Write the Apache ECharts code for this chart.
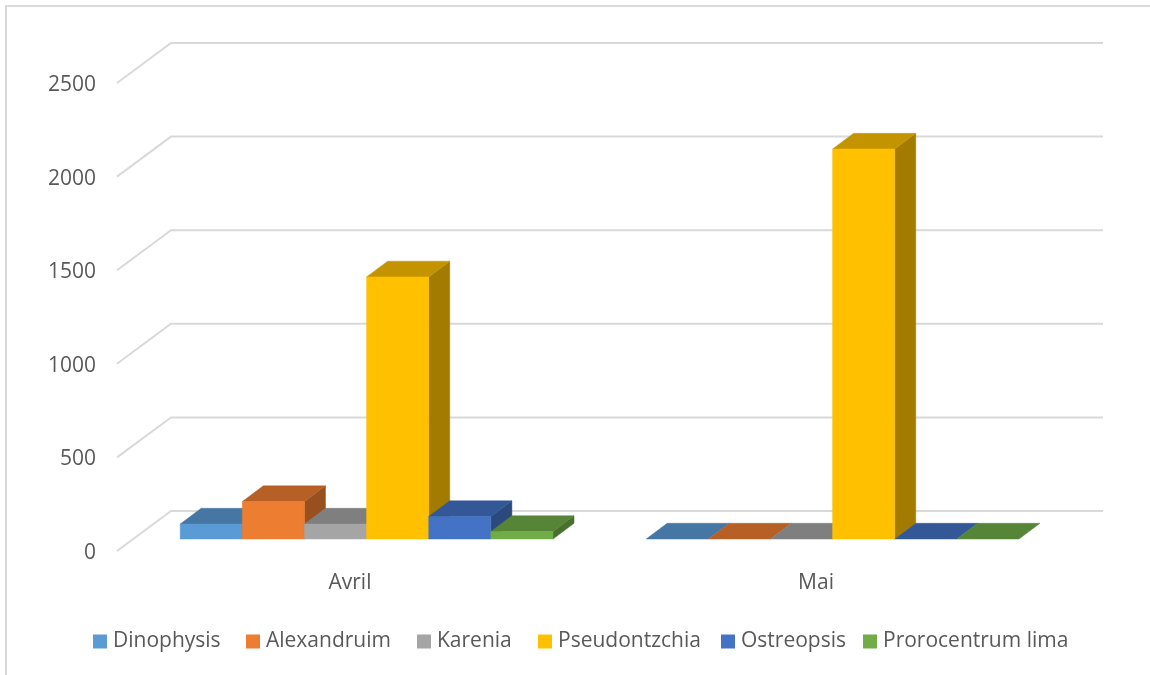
<!DOCTYPE html>
<html>
<head>
<meta charset="utf-8">
<title>Avril / Mai</title>
<script src="https://cdn.jsdelivr.net/npm/echarts@6/dist/echarts.min.js"></script>
<style>
  html, body { margin: 0; padding: 0; background: #fff; }
  #frame { position: absolute; left: 5px; top: 5px; width: 1145px; height: 670px; border-top: 2px solid #d9d9d9; border-left: 2px solid #d9d9d9; }
  #main { position: absolute; left: 0; top: 0; width: 1150px; height: 675px; }
</style>
</head>
<body>
<div id="frame"></div>
<div id="main"></div>
<script>
var categories = ['Avril', 'Mai'];
var yTicks = [0, 500, 1000, 1500, 2000, 2500];

var dinophysis = [80, 0];
var alexandruim = [200, 0];
var karenia = [80, 0];
var pseudontzchia = [1400, 2083];
var ostreopsis = [120, 0];
var prorocentrum = [40, 0];

var seriesNames = ['Dinophysis', 'Alexandruim', 'Karenia', 'Pseudontzchia', 'Ostreopsis', 'Prorocentrum lima'];
var seriesValues = [dinophysis, alexandruim, karenia, pseudontzchia, ostreopsis, prorocentrum];
var colors = ['#5b9bd5', '#ed7d31', '#a5a5a5', '#ffc000', '#4472c4', '#70ad47'];

// fausse 3D : decalage de profondeur du plancher
var wallDx = 54, wallDy = -40;
var barOffsetX = 16.6, barOffsetY = -12;
var depthX = 21, depthY = -15.7;

// une legende par serie, calee sur le carre de la reference
var legendLefts = [93, 246, 417, 538, 721, 863];

function shade(hex, k) {
  var n = parseInt(hex.slice(1), 16);
  var r = Math.round((n >> 16 & 255) * k);
  var g = Math.round((n >> 8 & 255) * k);
  var b = Math.round((n & 255) * k);
  return 'rgb(' + r + ',' + g + ',' + b + ')';
}

function renderGrid(params, api) {
  var p = api.coord([0, api.value(0)]);
  var left = params.coordSys.x;
  var right = left + params.coordSys.width;
  return {
    type: 'polyline',
    shape: { points: [[left, p[1]], [left + wallDx, p[1] + wallDy], [right + wallDx, p[1] + wallDy]] },
    style: { fill: null, stroke: '#d9d9d9', lineWidth: 2 }
  };
}

function face(points, fill) {
  return {
    type: 'polygon',
    shape: { points: points },
    style: { fill: fill, stroke: fill, lineWidth: 0.5 }
  };
}

function makeRenderBar(index, color) {
  return function (params, api) {
    var band = api.size([1, 0])[0];
    var w = band * 0.8 / seriesNames.length;
    var base = api.coord([api.value(0), 0]);
    var top = api.coord([api.value(0), api.value(1)]);
    var x0 = base[0] + barOffsetX + (index - seriesNames.length / 2) * w;
    var x1 = x0 + w;
    var y0 = base[1] + barOffsetY;
    var y1 = top[1] + barOffsetY;
    var children = [];
    if (y0 - y1 > 0) {
      children.push(face([[x1, y0], [x1 + depthX, y0 + depthY], [x1 + depthX, y1 + depthY], [x1, y1]], shade(color, 0.64)));
    }
    children.push(face([[x0, y1], [x1, y1], [x1 + depthX, y1 + depthY], [x0 + depthX, y1 + depthY]], shade(color, 0.77)));
    if (y0 - y1 > 0) {
      children.push(face([[x0, y0], [x1, y0], [x1, y1], [x0, y1]], color));
    }
    return { type: 'group', children: children };
  };
}

var series = [{
  type: 'custom',
  name: 'grille',
  silent: true,
  coordinateSystem: 'cartesian2d',
  encode: { y: 0 },
  data: yTicks.map(function (v) { return [v]; }),
  renderItem: renderGrid
}];

seriesNames.forEach(function (name, i) {
  series.push({
    type: 'custom',
    name: name,
    coordinateSystem: 'cartesian2d',
    itemStyle: { color: colors[i] },
    encode: { x: 0, y: 1 },
    data: categories.map(function (c, j) { return [j, seriesValues[i][j]]; }),
    renderItem: makeRenderBar(i, colors[i])
  });
});

var legends = seriesNames.map(function (name, i) {
  return {
    data: [name],
    left: legendLefts[i],
    top: 631,
    padding: 0,
    icon: 'rect',
    itemWidth: 14,
    itemHeight: 14,
    textStyle: { color: '#595959', fontSize: 21, padding: [0, 0, 0, 1] }
  };
});

var chart = echarts.init(document.getElementById('main'), null, { width: 1150, height: 675 });

var option = {
  animation: false,
  backgroundColor: 'transparent',
  textStyle: { fontFamily: '"Open Sans", sans-serif', color: '#595959' },
  grid: { left: 117, top: 83, width: 932, height: 468 },
  xAxis: {
    type: 'category',
    data: categories,
    axisLine: { show: false },
    axisTick: { show: false },
    splitLine: { show: false },
    axisLabel: { color: '#595959', fontSize: 21, margin: 22 }
  },
  yAxis: {
    type: 'value',
    min: 0,
    max: 2500,
    interval: 500,
    axisLine: { show: false },
    axisTick: { show: false },
    splitLine: { show: false },
    axisLabel: {
      color: '#595959',
      fontSize: 21,
      margin: 21,
      verticalAlign: 'top',
      lineHeight: 4,
      formatter: function (v) { return String(v); }
    }
  },
  legend: legends,
  series: series
};

chart.setOption(option);
</script>
</body>
</html>
